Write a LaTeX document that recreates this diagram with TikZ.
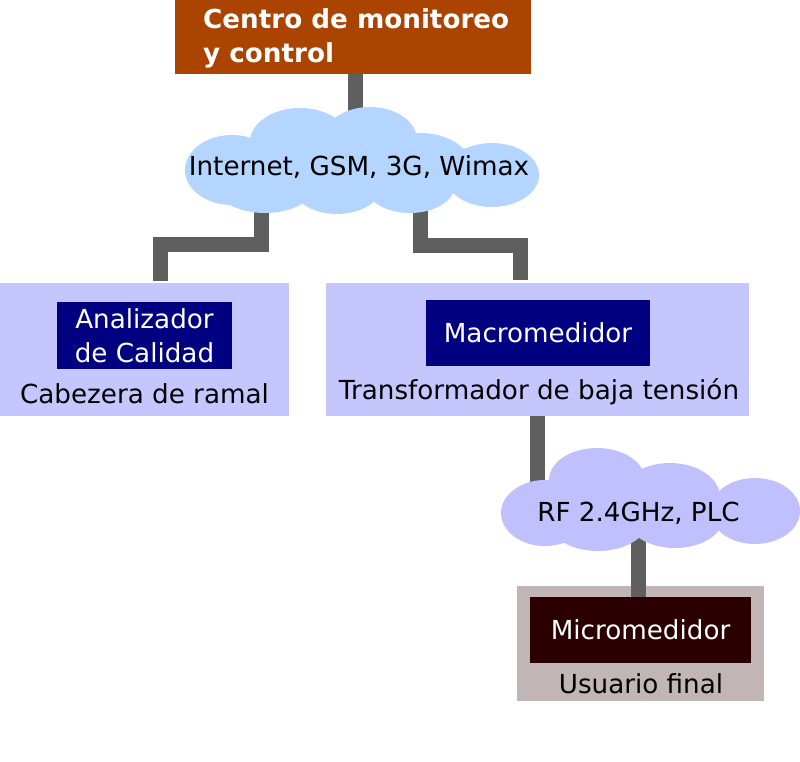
\documentclass[tikz,border=0pt]{standalone}
\usepackage{fontspec}
\setmainfont{DejaVu Sans}
\pgfdeclarelayer{boxes}
\pgfdeclarelayer{conns}
\pgfdeclarelayer{clouds}
\pgfsetlayers{boxes,conns,clouds,main}
\definecolor{topc}{HTML}{AA4400}
\definecolor{cloudA}{HTML}{B3D5FF}
\definecolor{cloudB}{HTML}{C0C0FF}
\definecolor{lav}{HTML}{C6C6FF}
\definecolor{navyc}{HTML}{000080}
\definecolor{pinkg}{HTML}{C1B5B5}
\definecolor{darkr}{HTML}{2B0000}
\definecolor{connc}{HTML}{5F5F5F}
\tikzset{
  conn/.style={draw=connc, line width=15pt, line cap=butt, line join=miter},
  outerbox/.style={fill=#1, draw=none, inner sep=0pt},
  innerbox/.style={fill=#1, draw=none, inner sep=0pt, text=white, align=center,
    font=\fontsize{26.2}{34}\selectfont},
  lbl/.style={inner sep=0pt, anchor=base, text=black, font=\fontsize{26.2}{34}\selectfont},
}
\begin{document}
\begin{tikzpicture}[x=1pt,y=-1pt]
\useasboundingbox (0,0) rectangle (800,761);
% outer boxes
\begin{pgfonlayer}{boxes}
\node[outerbox=topc, minimum width=356pt, minimum height=79pt] (top) at (353,34.5) {};
\node[outerbox=lav, minimum width=289pt, minimum height=133pt] (lbox) at (144.5,349.5) {};
\node[outerbox=lav, minimum width=423pt, minimum height=133pt] (rbox) at (537.5,349.5) {};
\node[outerbox=pinkg, minimum width=247pt, minimum height=115pt] (bbox) at (640.5,643.5) {};
\end{pgfonlayer}
% title text
\node[inner sep=0pt, anchor=north west, align=left, text=white,
  font=\fontsize{26.2}{34}\selectfont\bfseries] (title) at (203,8.5) {Centro de monitoreo\\y control};
% inner boxes
\node[innerbox=navyc, minimum width=175pt, minimum height=67pt] (anal) at (144.5,335.5) {Analizador\\de Calidad};
\node[innerbox=navyc, minimum width=224pt, minimum height=66pt] (macro) at (538,333) {Macromedidor};
\node[innerbox=darkr, minimum width=221pt, minimum height=66pt] (micro) at (640.5,630) {Micromedidor};
% labels
\node[lbl] (lab1) at (144.5,403) {Cabezera de ramal};
\node[lbl] (lab2) at (539,399) {Transformador de baja tensión};
\node[lbl] (lab3) at (641,693) {Usuario final};
\node[lbl] (cloud1) at (359,175) {Internet, GSM, 3G, Wimax};
\node[lbl] (cloud2) at (638.5,521) {RF 2.4GHz, PLC};
% clouds
\begin{pgfonlayer}{clouds}
\fill[cloudA] (232,170) ellipse [x radius=47, y radius=35];
\fill[cloudA] (300,142) ellipse [x radius=50, y radius=34];
\fill[cloudA] (370,140) ellipse [x radius=47, y radius=33];
\fill[cloudA] (420,165) ellipse [x radius=50, y radius=32];
\fill[cloudA] (492,175) ellipse [x radius=47, y radius=32];
\fill[cloudA] (265,185) ellipse [x radius=50, y radius=28];
\fill[cloudA] (337,185) ellipse [x radius=45, y radius=29];
\fill[cloudA] (410,185) ellipse [x radius=45, y radius=28];
\fill[cloudA] (360,170) ellipse [x radius=150, y radius=30];
\fill[cloudB] (545,513) ellipse [x radius=44, y radius=33];
\fill[cloudB] (597,480) ellipse [x radius=48, y radius=32];
\fill[cloudB] (670,497) ellipse [x radius=50, y radius=34];
\fill[cloudB] (755,511) ellipse [x radius=45, y radius=33];
\fill[cloudB] (598,520) ellipse [x radius=50, y radius=31];
\fill[cloudB] (675,518) ellipse [x radius=48, y radius=30];
\end{pgfonlayer}
% connectors
\coordinate (tc) at (355,130);
\coordinate (lA) at (261,195);
\coordinate (lB) at (160.5,244.5);
\coordinate (rA) at (420.5,195);
\coordinate (rB) at (520.5,245.5);
\begin{pgfonlayer}{conns}
\draw[conn] (top.south -| tc) -- (tc);
\draw[conn] (lA) |- (lB) -- ([yshift=2pt]lB |- lbox.north);
\draw[conn] (rA) |- (rB) -- ([yshift=3pt]rB |- rbox.north);
\draw[conn, line width=14.5pt] (rbox.south) -- (rbox.south |- cloud2.center);
\draw[conn, line width=14.5pt] (cloud2.center) -- (cloud2.center |- micro.north);
\end{pgfonlayer}
\end{tikzpicture}
\end{document}
